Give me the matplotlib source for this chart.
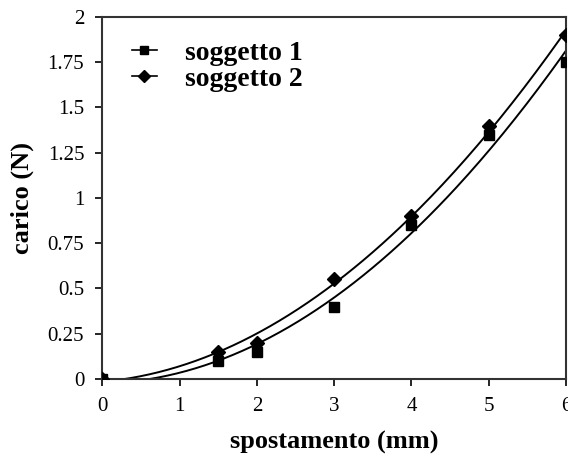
import numpy as np
import matplotlib.pyplot as plt
from matplotlib.ticker import FuncFormatter

# spostamento (mm) e carico (N) per i due soggetti
spostamento = [0, 1.5, 2, 3, 4, 5, 6]
carico_s1 = [0, 0.10, 0.15, 0.40, 0.85, 1.35, 1.75]
carico_s2 = [0, 0.15, 0.20, 0.55, 0.90, 1.40, 1.90]
etichette = ["soggetto 1", "soggetto 2"]

plt.rcParams['font.family'] = ['Liberation Serif', 'DejaVu Serif']

fig = plt.figure(figsize=(5.68, 4.58), dpi=100)
ax = fig.add_axes([0.18, 0.1725, 0.8165, 0.7905])

# linee di tendenza polinomiali (2° grado)
xx = np.linspace(0, 6, 200)
for y, m, ms, lab in [(carico_s1, 's', 7, etichette[0]), (carico_s2, 'D', 7, etichette[1])]:
    c = np.polyfit(spostamento, y, 2)
    ax.plot(xx, np.polyval(c, xx), color='black', lw=1.4, zorder=2)
    ax.plot(spostamento, y, linestyle='none', marker=m, ms=ms, color='black', zorder=3)
    ax.plot([], [], color='black', lw=1.2, marker=m, ms=ms - 1, label=lab)

ax.set_xlim(0, 6)
ax.set_ylim(0, 2)
ax.set_xticks(range(0, 7))
ax.set_yticks(np.arange(0, 2.01, 0.25))
ax.yaxis.set_major_formatter(FuncFormatter(lambda v, p: '%g' % v))
ax.tick_params(direction='out', length=5, width=1.2, labelsize=15, pad=8)

for s in ax.spines.values():
    s.set_linewidth(1.5)
    s.set_color('#333333')

ax.set_xlabel('spostamento (mm)', fontsize=19, fontweight='bold', labelpad=11)
ax.set_ylabel('carico (N)', fontsize=19, fontweight='bold', labelpad=10)

leg = ax.legend(loc='upper left', bbox_to_anchor=(0.01, 1.005), frameon=False,
                prop={'size': 20, 'weight': 'bold'}, handlelength=0.9,
                handletextpad=1.0, labelspacing=0.02)

fig.savefig('out.png', dpi=100)
